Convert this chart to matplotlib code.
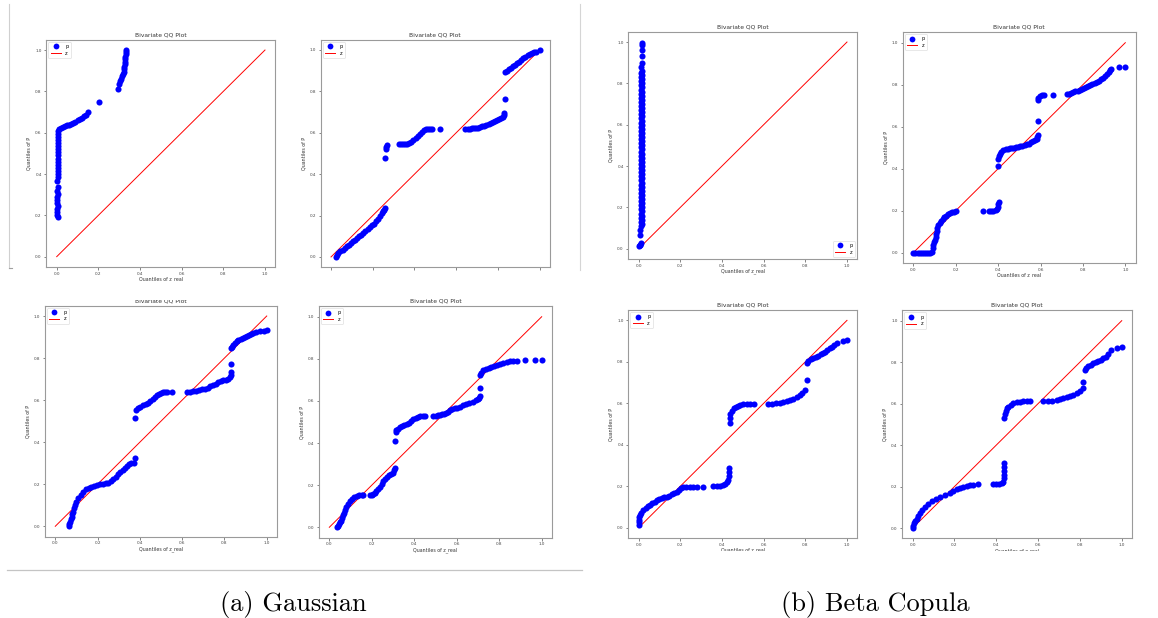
import matplotlib
matplotlib.use("Agg")
import matplotlib.pyplot as plt
from matplotlib.lines import Line2D
from matplotlib.patches import Rectangle

W, H = 1158, 618

# ---------------- data ----------------
diag_x = [0.0, 1.0]
diag_y = [0.0, 1.0]

p1_x = [0.004,0.003,0.002,0.003,0.004,0.003,0.002,0.003,0.004,0.003,0.004,0.003,0.004,0.005,0.004,0.005,0.004,0.005,0.006,0.005,0.006,0.006,0.007,0.006,0.007,0.007,0.008,0.008,
        0.012,0.020,0.030,0.040,0.050,0.060,0.070,0.080,0.090,0.100,0.110,0.120,0.130,0.140,0.149,
        0.205,0.296,
        0.301,0.305,0.310,0.314,0.318,0.321,0.323,0.325,0.327,0.328,0.329,0.330,0.331,0.332,0.333]
p1_y = [0.190,0.200,0.215,0.230,0.245,0.260,0.275,0.290,0.305,0.320,0.335,0.365,0.385,0.400,0.415,0.430,0.445,0.460,0.475,0.490,0.505,0.520,0.535,0.550,0.565,0.580,0.595,0.610,
        0.618,0.623,0.627,0.631,0.635,0.639,0.643,0.648,0.654,0.660,0.666,0.673,0.680,0.686,0.700,
        0.747,0.811,
        0.836,0.848,0.860,0.872,0.884,0.896,0.908,0.920,0.932,0.944,0.956,0.968,0.980,0.990,1.000]

p2_x = [0.024,0.027,0.035,0.045,0.055,0.065,0.075,0.085,0.095,0.105,0.115,0.125,0.135,0.145,0.155,0.165,0.175,0.185,0.195,0.205,0.215,0.225,0.235,0.243,0.250,0.256,0.260,
        0.260,0.262,0.264,0.267,
        0.324,0.335,0.345,0.355,0.365,0.375,0.385,0.395,0.405,0.415,0.425,0.435,0.445,0.455,0.465,0.475,0.485,0.522,
        0.644,0.655,0.665,0.675,0.685,0.695,0.705,0.715,0.725,0.735,0.745,0.755,0.765,0.775,0.785,0.795,0.805,0.815,0.823,0.828,0.830,0.834,
        0.834,0.842,0.852,0.862,0.872,0.882,0.892,0.902,0.912,0.922,0.932,0.942,0.952,0.962,0.972,0.982,1.000]
p2_y = [0.000,0.008,0.018,0.027,0.035,0.043,0.051,0.060,0.068,0.076,0.084,0.092,0.100,0.108,0.116,0.125,0.134,0.143,0.152,0.161,0.172,0.184,0.198,0.210,0.220,0.228,0.236,
        0.477,0.522,0.532,0.540,
        0.546,0.546,0.546,0.547,0.548,0.551,0.556,0.564,0.573,0.584,0.595,0.604,0.611,0.616,0.618,0.619,0.620,0.620,
        0.620,0.620,0.620,0.621,0.622,0.623,0.625,0.628,0.631,0.635,0.639,0.643,0.648,0.653,0.658,0.663,0.668,0.672,0.676,0.684,0.693,0.765,
        0.894,0.900,0.906,0.913,0.921,0.929,0.937,0.944,0.952,0.960,0.967,0.975,0.981,0.985,0.988,0.992,1.000]

p3_x = [0.000,0.004,0.008,0.010,0.006,0.006,
        0.011,0.014,0.012,0.015,0.011,0.014,0.012,0.015,0.011,0.014,0.012,0.015,0.011,0.014,0.012,0.015,0.011,0.014,0.012,0.015,
        0.011,0.014,0.012,0.015,0.011,0.014,0.012,0.015,0.011,0.014,0.012,0.015,0.011,0.014,0.012,0.015,0.011,0.014,0.012,0.015,
        0.011,0.014,0.012,0.015,0.011,0.014,0.012,0.015,0.011,0.014,0.012,0.015,0.011,0.014,0.012,0.015,0.011,0.014,0.012,0.015,
        0.011,0.014,0.012,0.015,0.011,0.014,0.012,0.015,0.011,0.014,0.012,0.015,0.011,0.014,0.012,0.015,0.013,0.015,0.016,0.016,
        0.018,0.018]
p3_y = [0.013,0.016,0.020,0.026,0.066,0.090,
        0.110,0.120,0.130,0.140,0.150,0.160,0.170,0.180,0.190,0.200,0.210,0.220,0.230,0.240,0.250,0.260,0.270,0.280,0.290,0.300,
        0.310,0.320,0.330,0.340,0.350,0.360,0.370,0.380,0.390,0.400,0.410,0.420,0.430,0.440,0.450,0.460,0.470,0.480,0.490,0.500,
        0.510,0.520,0.530,0.540,0.550,0.560,0.570,0.580,0.590,0.600,0.610,0.620,0.630,0.640,0.650,0.660,0.670,0.680,0.690,0.700,
        0.710,0.720,0.730,0.740,0.750,0.760,0.770,0.780,0.790,0.800,0.810,0.820,0.830,0.840,0.850,0.860,0.880,0.900,0.930,0.960,
        0.985,0.997]

p4_x = [0.000,0.010,0.020,0.030,0.040,0.050,0.060,0.070,0.080,0.087,
        0.091,0.094,0.098,0.102,0.105,0.108,0.110,0.113,0.118,0.124,0.131,0.139,0.147,0.155,0.163,0.172,0.181,0.190,0.200,
        0.330,
        0.358,0.368,0.378,0.388,0.395,0.399,0.401,0.402,
        0.401,
        0.401,0.403,0.408,0.415,0.425,0.435,0.445,0.455,0.465,0.475,0.485,0.495,0.505,0.515,0.525,0.535,0.545,0.555,0.565,0.575,0.582,0.585,0.586,
        0.586,
        0.586,0.590,0.596,0.605,0.615,
        0.657,
        0.723,0.735,0.745,0.755,0.765,0.775,0.785,0.795,0.805,0.815,0.825,0.835,0.845,0.855,0.865,0.875,0.885,0.895,0.905,0.915,0.922,0.928,0.931,
        0.972,1.000]
p4_y = [0.000,0.000,0.000,0.000,0.000,0.000,0.000,0.000,0.000,0.001,
        0.021,0.037,0.050,0.062,0.075,0.090,0.105,0.118,0.130,0.140,0.150,0.159,0.168,0.177,0.185,0.191,0.194,0.196,0.198,
        0.198,
        0.198,0.199,0.200,0.203,0.208,0.218,0.230,0.242,
        0.413,
        0.445,0.460,0.472,0.481,0.488,0.493,0.496,0.498,0.499,0.500,0.501,0.503,0.506,0.509,0.512,0.516,0.520,0.525,0.530,0.535,0.541,0.550,0.560,
        0.627,
        0.725,0.737,0.745,0.749,0.751,
        0.751,
        0.754,0.757,0.760,0.764,0.768,0.772,0.776,0.780,0.784,0.789,0.794,0.799,0.804,0.809,0.814,0.820,0.826,0.833,0.841,0.850,0.860,0.870,0.876,
        0.884,0.886]

p5_x = [0.065,0.066,0.069,0.073,0.077,0.081,0.085,0.089,0.093,0.100,0.109,0.120,0.132,0.145,0.158,0.170,0.183,0.196,0.210,0.227,0.240,0.251,0.263,0.274,0.285,0.296,0.306,0.318,0.330,0.340,0.350,0.358,
        0.374,0.377,
        0.377,
        0.382,0.392,0.402,0.415,0.428,0.440,0.450,0.460,0.470,0.480,0.490,0.500,0.510,0.520,0.527,
        0.550,
        0.621,0.635,0.650,0.665,0.680,0.695,0.710,0.722,0.734,0.746,0.758,0.770,0.782,0.794,0.806,0.818,0.826,0.829,0.831,
        0.831,
        0.831,0.836,0.842,0.850,0.858,0.866,0.876,0.886,0.896,0.906,0.916,0.926,0.937,0.950,0.968,0.985,1.000]
p5_y = [0.000,0.010,0.022,0.034,0.046,0.058,0.070,0.085,0.101,0.116,0.133,0.150,0.165,0.176,0.183,0.188,0.193,0.197,0.199,0.202,0.205,0.208,0.214,0.223,0.236,0.249,0.260,0.270,0.278,0.287,0.294,0.300,
        0.300,0.323,
        0.517,
        0.553,0.562,0.569,0.575,0.581,0.587,0.596,0.606,0.616,0.625,0.631,0.635,0.637,0.638,0.638,
        0.640,
        0.640,0.641,0.643,0.645,0.648,0.651,0.655,0.660,0.667,0.673,0.679,0.684,0.689,0.694,0.698,0.702,0.708,0.720,0.735,
        0.772,
        0.846,0.855,0.862,0.871,0.879,0.886,0.892,0.897,0.902,0.906,0.911,0.916,0.921,0.925,0.930,0.931,0.933]

p6_x = [0.035,0.040,0.045,0.050,0.056,0.060,0.066,0.070,0.074,0.080,0.089,0.098,0.108,0.118,0.129,0.140,0.155,0.160,
        0.192,0.200,0.208,0.215,0.222,0.230,0.239,0.247,0.255,0.262,0.272,0.282,0.292,0.301,0.305,0.309,
        0.309,
        0.312,0.316,0.324,0.333,0.343,0.353,0.364,0.374,0.385,0.396,0.407,0.417,0.427,0.440,0.450,
        0.490,0.500,0.510,0.520,0.530,0.540,0.550,0.560,0.570,0.580,0.590,0.600,0.615,0.630,0.645,0.660,0.675,0.690,0.700,0.706,0.710,
        0.710,
        0.710,0.716,0.725,0.738,0.750,0.762,0.775,0.790,0.805,0.819,0.835,0.850,0.867,0.882,
        0.922,0.969,1.000]
p6_y = [0.000,0.008,0.016,0.024,0.032,0.045,0.059,0.070,0.082,0.095,0.110,0.125,0.135,0.142,0.148,0.151,0.152,0.153,
        0.153,0.154,0.158,0.165,0.172,0.182,0.193,0.207,0.220,0.230,0.240,0.246,0.252,0.259,0.270,0.282,
        0.410,
        0.452,0.462,0.468,0.474,0.479,0.484,0.489,0.496,0.505,0.515,0.521,0.525,0.528,0.528,0.528,
        0.528,0.530,0.532,0.534,0.536,0.539,0.543,0.549,0.556,0.561,0.565,0.568,0.573,0.579,0.585,0.591,0.597,0.603,0.608,0.615,0.625,
        0.660,
        0.723,0.735,0.745,0.751,0.755,0.761,0.766,0.772,0.777,0.782,0.786,0.788,0.790,0.791,
        0.794,0.794,0.794]

p7_x = [0.000,0.000,0.000,0.002,0.006,0.013,0.022,0.033,0.044,0.054,0.065,0.076,0.086,0.098,0.110,0.122,0.134,0.146,0.158,0.170,0.182,0.192,0.203,0.214,0.228,0.246,
        0.263,0.278,0.310,
        0.358,0.375,0.390,0.403,0.414,0.422,0.428,0.432,0.434,0.435,
        0.438,
        0.438,0.440,0.446,0.456,0.466,0.476,0.488,0.502,0.518,0.534,0.554,
        0.622,0.640,0.658,0.678,0.695,0.710,0.726,0.742,0.758,0.774,0.786,0.798,
        0.806,
        0.806,0.815,0.826,0.838,0.850,0.862,0.874,0.886,0.896,0.906,0.918,0.928,0.938,0.950,
        0.979,1.000]
p7_y = [0.013,0.025,0.037,0.049,0.061,0.072,0.085,0.094,0.102,0.110,0.118,0.126,0.134,0.139,0.144,0.148,0.150,0.155,0.160,0.166,0.174,0.181,0.189,0.195,0.197,0.198,
        0.198,0.198,0.198,
        0.201,0.201,0.201,0.205,0.209,0.220,0.232,0.250,0.268,0.287,
        0.504,
        0.530,0.548,0.565,0.576,0.583,0.588,0.592,0.596,0.596,0.596,0.596,
        0.596,0.597,0.599,0.601,0.606,0.611,0.617,0.623,0.631,0.641,0.650,0.662,
        0.710,
        0.794,0.803,0.812,0.818,0.824,0.830,0.836,0.842,0.849,0.856,0.866,0.873,0.881,0.890,
        0.899,0.903]

p8_x = [0.000,0.004,0.008,0.013,0.019,0.027,0.035,0.047,0.059,0.075,0.091,0.110,0.131,0.155,0.179,0.195,0.211,0.226,0.242,0.258,0.274,0.290,0.314,
        0.386,0.400,0.413,0.426,0.434,0.437,0.439,0.439,0.439,0.439,
        0.439,
        0.441,0.445,0.451,0.458,0.470,0.482,0.498,0.514,0.530,0.545,0.561,
        0.625,0.645,0.665,0.689,0.705,0.721,0.737,0.753,0.769,0.785,0.800,0.813,
        0.817,
        0.822,0.830,0.840,0.852,0.864,0.876,0.888,0.900,0.912,0.924,0.935,0.947,
        0.976,1.000]
p8_y = [0.000,0.012,0.023,0.033,0.042,0.057,0.071,0.087,0.103,0.118,0.132,0.142,0.151,0.158,0.167,0.177,0.186,0.193,0.199,0.203,0.207,0.208,0.211,
        0.211,0.212,0.214,0.217,0.223,0.240,0.256,0.275,0.293,0.312,
        0.529,
        0.550,0.565,0.577,0.585,0.593,0.601,0.606,0.609,0.611,0.613,0.613,
        0.613,0.613,0.614,0.617,0.621,0.625,0.630,0.636,0.642,0.650,0.660,0.674,
        0.706,
        0.762,0.772,0.780,0.787,0.794,0.800,0.806,0.812,0.818,0.826,0.838,0.859,
        0.867,0.871]

panels_x = [p1_x, p2_x, p3_x, p4_x, p5_x, p6_x, p7_x, p8_x]
panels_y = [p1_y, p2_y, p3_y, p4_y, p5_y, p6_y, p7_y, p8_y]
tick_vals = [0.0, 0.2, 0.4, 0.6, 0.8, 1.0]
tick_labels = ["0.0", "0.2", "0.4", "0.6", "0.8", "1.0"]
title_text = "Bivariate QQ Plot"
xlabel_text = "Quantiles of z_real"
ylabel_text = "Quantiles of P"
legend_labels = ["p", "z"]
captions = ["(a) Gaussian", "(b) Beta Copula"]

# ---------------- layout (pixel boxes: left, top, right, bottom) ----------------
boxes = [
    (46.3, 39.7, 275.4, 267.0),
    (320.6, 39.6, 550.1, 267.3),
    (628.3, 31.7, 857.4, 259.0),
    (902.7, 32.2, 1135.9, 263.2),
    (44.7, 305.5, 277.3, 536.8),
    (318.7, 306.2, 552.3, 537.8),
    (628.3, 310.0, 857.4, 538.0),
    (902.2, 310.3, 1132.2, 538.4),
]
legend_loc = ["upper left", "upper left", "lower right", "upper left",
              "upper left", "upper left", "upper left", "upper left"]
show_xticklabels = [True, False, True, True, True, True, True, True]

fig = plt.figure(figsize=(W / 100, H / 100), dpi=100)
fig.patch.set_facecolor("white")

spine_col = "#9a9a9a"
for i, (l, t, r, b) in enumerate(boxes):
    ax = fig.add_axes([l / W, 1 - b / H, (r - l) / W, (b - t) / H])
    ax.plot(panels_x[i], panels_y[i], "o", color="blue", ms=4.4, mew=0,
            label=legend_labels[0], zorder=3)
    ax.plot(diag_x, diag_y, "-", color="red", lw=0.7, label=legend_labels[1],
            zorder=2)
    ax.set_xlim(-0.05, 1.05)
    ax.set_ylim(-0.05, 1.05)
    ax.set_xticks(tick_vals)
    ax.set_yticks(tick_vals)
    ax.set_yticklabels(tick_labels)
    if show_xticklabels[i]:
        ax.set_xticklabels(tick_labels)
        ax.set_xlabel(xlabel_text, fontsize=3.4, labelpad=0.6, color="#333333")
    else:
        ax.set_xticklabels([])
    ax.set_ylabel(ylabel_text, fontsize=3.4, labelpad=2.5, color="#333333")
    ax.set_title(title_text, fontsize=4.3, pad=2.5, color="#333333")
    ax.tick_params(labelsize=3.0, length=1.8, width=0.5, pad=1.5,
                   colors="#555555", labelcolor="#444444")
    for s in ax.spines.values():
        s.set_color(spine_col)
        s.set_linewidth(0.8)
    leg = ax.legend(loc=legend_loc[i], fontsize=3.6, frameon=True,
                    handlelength=2.0, borderpad=0.45, labelspacing=0.35,
                    handletextpad=0.9, markerscale=0.95, borderaxespad=0.4)
    leg.get_frame().set_linewidth(0.4)
    leg.get_frame().set_edgecolor("#cccccc")

# white covers where the screenshot crops the panels
covers = [
    (30, 281.0, 300, 292),    # panel 1 x-label cut
    (880, 276.5, 1158, 292),  # panel 4 x-label cut
    (600, 550.5, 1158, 575),  # panels 7, 8 x-label cut
    (30, 292, 300, 299.5),    # panel 5 title cut at top
]
for (x0, y0, x1, y1) in covers:
    fig.add_artist(Rectangle((x0 / W, 1 - y1 / H), (x1 - x0) / W, (y1 - y0) / H,
                             facecolor="white", edgecolor="none", zorder=10,
                             transform=fig.transFigure))

# screenshot border lines
fig.add_artist(Line2D([9.3 / W, 9.3 / W], [1 - 4 / H, 1 - 268 / H],
                      color="#d0d0d0", lw=0.8, zorder=11))
fig.add_artist(Line2D([9.3 / W, 12 / W], [1 - 268 / H, 1 - 268 / H],
                      color="#a0a0a0", lw=0.8, zorder=11))
fig.add_artist(Line2D([579.7 / W, 579.7 / W], [1 - 4 / H, 1 - 270 / H],
                      color="#d5d5d5", lw=0.8, zorder=11))
fig.add_artist(Line2D([7 / W, 581.7 / W], [1 - 570.3 / H, 1 - 570.3 / H],
                      color="#c4c4c4", lw=0.9, zorder=11))

# captions
fig.text(293 / W, 1 - 604 / H, captions[0], fontsize=19, family="cmr10",
         ha="center", va="center")
fig.text(875 / W, 1 - 604 / H, captions[1], fontsize=19, family="cmr10",
         ha="center", va="center")

fig.savefig("out.png", dpi=100, facecolor="white")
